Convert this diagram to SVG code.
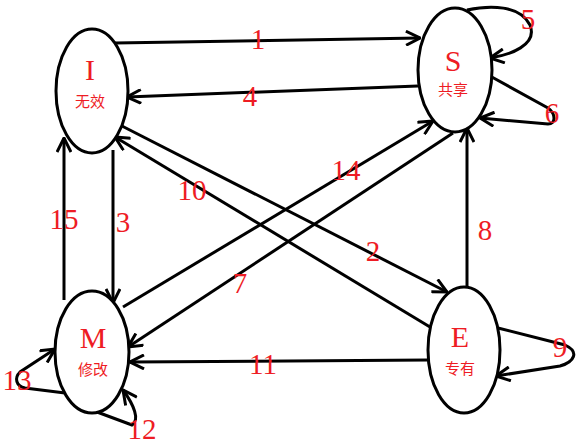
<svg xmlns="http://www.w3.org/2000/svg" width="582" height="445" viewBox="0 0 582 445">
<style>
.n{fill:#fff;stroke:#000;stroke-width:3}
.c{fill:none;stroke:#000;stroke-width:3}
.big{font-family:"Liberation Serif",serif;font-size:30px;fill:#ee1c24;text-anchor:middle}
.cn{font-family:"Noto Sans CJK SC",sans-serif;font-size:15px;fill:#ee1c24;text-anchor:middle}
.lb{font-family:"Liberation Serif",serif;font-size:29px;fill:#ee1c24;text-anchor:middle}
</style>
<defs>
<marker id="a" viewBox="0 0 16 16" refX="15" refY="8" markerWidth="16" markerHeight="16" markerUnits="userSpaceOnUse" orient="auto"><path d="M1,1 L15,8 L1,15" fill="none" stroke="#000" stroke-width="3"/></marker>
</defs>
<rect width="582" height="445" fill="#fff"/>
<g id="connectors">
<line class="c" x1="115" y1="43" x2="420" y2="38" marker-end="url(#a)"/>
<line class="c" x1="418" y1="86" x2="127" y2="97" marker-end="url(#a)"/>
<path class="c" d="M467,10 C490,5 520,5 530,25 C538,45 510,55 490,58" marker-end="url(#a)"/>
<path class="c" d="M490,76 L548,108 C556,114 556,124 548,124 L480,118" marker-end="url(#a)"/>
<line class="c" x1="123" y1="307" x2="433" y2="121" marker-end="url(#a)"/>
<line class="c" x1="453" y1="133" x2="128" y2="347" marker-end="url(#a)"/>
<line class="c" x1="430" y1="327" x2="115" y2="137" marker-end="url(#a)"/>
<line class="c" x1="120" y1="125" x2="447" y2="292" marker-end="url(#a)"/>
<line class="c" x1="113" y1="150" x2="113" y2="303" marker-end="url(#a)"/>
<line class="c" x1="64" y1="300" x2="64" y2="138" marker-end="url(#a)"/>
<line class="c" x1="467" y1="287" x2="467" y2="128" marker-end="url(#a)"/>
<line class="c" x1="428" y1="360" x2="130" y2="362" marker-end="url(#a)"/>
<path class="c" d="M498,328 L565,345 C580,352 574,362 560,366 L496,376" marker-end="url(#a)"/>
<path class="c" d="M65,393 L25,388 C16,386 14,378 20,372 L55,349" marker-end="url(#a)"/>
<path class="c" d="M97,412 L132,425 C140,420 134,405 123,390" marker-end="url(#a)"/>
</g>
<g id="node-I"><ellipse class="n" cx="92" cy="91" rx="36" ry="62"/><text class="big" x="90" y="80">I</text><text class="cn" x="90" y="107">无效</text></g>
<g id="node-S"><ellipse class="n" cx="455" cy="70" rx="37" ry="62"/><text class="big" x="453" y="71">S</text><text class="cn" x="453" y="95">共享</text></g>
<g id="node-M"><ellipse class="n" cx="92" cy="352" rx="37" ry="61"/><text class="big" x="93" y="348">M</text><text class="cn" x="93" y="375">修改</text></g>
<g id="node-E"><ellipse class="n" cx="464" cy="350" rx="36" ry="63"/><text class="big" x="460" y="347">E</text><text class="cn" x="460" y="374">专有</text></g>
<g id="labels">
<text class="lb" x="258" y="49">1</text>
<text class="lb" x="250" y="106">4</text>
<text class="lb" x="528" y="29">5</text>
<text class="lb" x="552" y="123">6</text>
<text class="lb" x="346" y="180">14</text>
<text class="lb" x="192" y="200">10</text>
<text class="lb" x="64" y="229">15</text>
<text class="lb" x="123" y="232">3</text>
<text class="lb" x="485" y="240">8</text>
<text class="lb" x="373" y="261">2</text>
<text class="lb" x="240" y="293">7</text>
<text class="lb" x="263" y="374">11</text>
<text class="lb" x="560" y="357">9</text>
<text class="lb" x="17" y="390">13</text>
<text class="lb" x="142" y="439">12</text>
</g>
</svg>
